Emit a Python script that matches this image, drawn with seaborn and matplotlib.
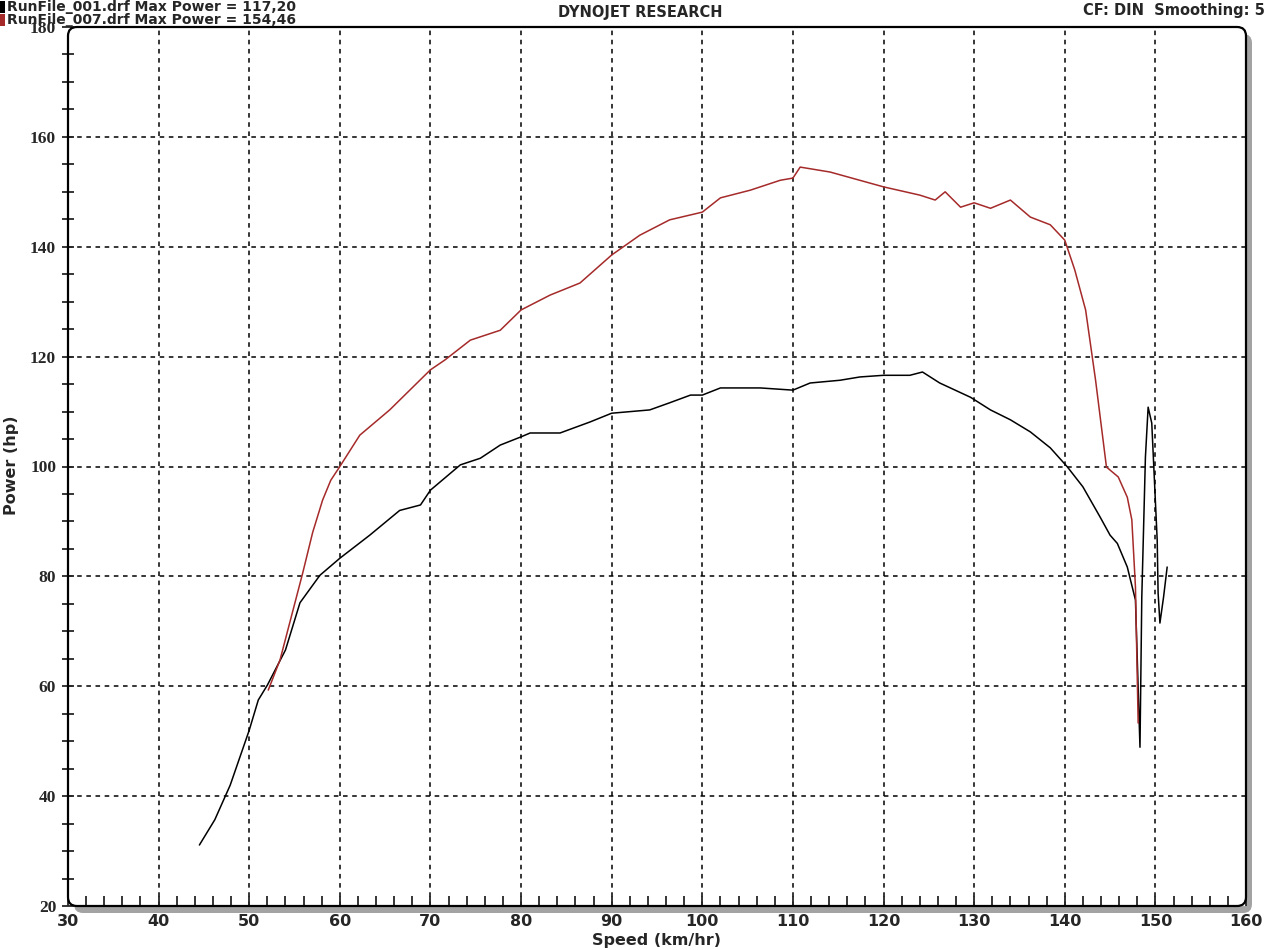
import numpy as np
import pandas as pd
import matplotlib
matplotlib.use("Agg")
import matplotlib.pyplot as plt
import seaborn as sns
from matplotlib.patches import FancyBboxPatch, Rectangle

# Run 001 (black)
black_speed = [44.5, 46.2, 47.9, 50.0, 51.0, 52.0, 54.0, 55.6, 57.8, 60.0, 63.3, 66.6,
               68.9, 70.0, 73.3, 75.5, 77.7, 80.0, 81.0, 84.3, 87.6, 90.0, 94.2, 96.4,
               98.7, 100.0, 102.0, 106.4, 110.0, 111.9, 115.2, 117.4, 120.0, 122.9, 124.3,
               126.2, 129.6, 131.8, 134.0, 136.2, 138.4, 140.3, 142.0, 143.9, 145.0, 145.8,
               146.9, 147.8, 148.3, 148.5, 148.9, 149.2, 149.6, 150.2, 150.3, 150.5, 150.9, 151.3]
black_power = [31.1, 35.7, 42.0, 52.0, 57.5, 60.2, 66.6, 75.2, 80.2, 83.3, 87.5, 92.0,
               93.0, 95.7, 100.3, 101.5, 103.9, 105.4, 106.1, 106.1, 108.1, 109.7, 110.3, 111.6,
               113.0, 113.0, 114.3, 114.3, 113.9, 115.2, 115.7, 116.3, 116.6, 116.6, 117.2,
               115.2, 112.6, 110.3, 108.5, 106.3, 103.4, 99.9, 96.3, 90.8, 87.5, 86.0,
               81.7, 75.7, 48.9, 76.2, 101.7, 110.8, 107.9, 86.6, 77.0, 71.5, 76.2, 81.7]

# Run 007 (red)
red_speed = [52.1, 53.4, 55.9, 57.0, 58.1, 59.0, 60.0, 62.2, 65.5, 70.0, 71.6, 74.4, 77.7, 80.0,
             83.2, 86.5, 90.0, 93.1, 96.4, 100.0, 102.0, 105.3, 108.6, 110.0, 110.8, 114.1,
             120.0, 124.0, 125.7, 126.8, 128.5, 130.0, 131.8, 134.0, 136.2, 138.4, 140.0,
             141.1, 142.3, 143.4, 144.6, 145.9, 146.9, 147.4, 147.8, 148.1]
red_power = [59.3, 64.8, 80.6, 88.0, 93.9, 97.5, 100.0, 105.7, 110.3, 117.6, 119.4, 123.0, 124.8, 128.5,
             131.2, 133.4, 138.5, 142.1, 144.9, 146.3, 148.9, 150.3, 152.1, 152.5, 154.5, 153.6,
             150.9, 149.4, 148.5, 150.0, 147.2, 148.0, 147.0, 148.5, 145.4, 144.0, 141.2,
             135.8, 128.5, 115.7, 99.9, 98.1, 94.4, 90.3, 78.1, 53.3]

run_names = ["RunFile_001.drf", "RunFile_007.drf"]
max_power = ["117,20", "154,46"]
run_colors = {"RunFile_001.drf": "black", "RunFile_007.drf": "#a52a2a"}

x_ticks = list(range(30, 161, 10))
y_ticks = list(range(20, 181, 20))

df = pd.concat([
    pd.DataFrame({"speed": black_speed, "power": black_power, "run": run_names[0]}),
    pd.DataFrame({"speed": red_speed, "power": red_power, "run": run_names[1]}),
], ignore_index=True)

sns.set_style("white")
plt.rcParams['font.family'] = ['DejaVu Sans']

W, H = 1280, 950
fig = plt.figure(figsize=(W / 100, H / 100), dpi=100)
L, B, R, T = 68, 44, 1246, 923  # axes box in pixels (from bottom)
ax = fig.add_axes([L / W, B / H, (R - L) / W, (T - B) / H])
ax.set_zorder(1)

# grey drop shadow behind the plot frame
shadow = FancyBboxPatch(((L + 6) / W, (B - 7) / H), (R - L) / W, (T - B) / H,
                        boxstyle="round,pad=0,rounding_size=0.007",
                        mutation_aspect=W / H, transform=fig.transFigure,
                        facecolor="#a3a3a3", edgecolor="none", zorder=0)
fig.patches.append(shadow)

sns.lineplot(data=df, x="speed", y="power", hue="run", palette=run_colors,
             estimator=None, sort=False, linewidth=1.1, legend=False, ax=ax)

ax.set_xlim(30, 160)
ax.set_ylim(20, 180)
ax.set_xticks(x_ticks)
ax.set_yticks(y_ticks)
ax.set_xticks(np.arange(30, 161, 2), minor=True)
ax.set_yticks(np.arange(20, 181, 5), minor=True)

for v in x_ticks[1:-1]:
    ax.axvline(v, color="black", linestyle=(0, (3, 3)), linewidth=1.1, zorder=0)
for v in y_ticks[1:-1]:
    ax.axhline(v, color="black", linestyle=(0, (3, 3)), linewidth=1.1, zorder=0)

for s in ax.spines.values():
    s.set_visible(False)

ax.tick_params(axis="x", which="both", direction="in", length=7, width=1.3,
               bottom=True, top=False, pad=6, labelsize=11.5)
ax.tick_params(axis="y", which="both", direction="inout", length=9, width=1.3,
               left=True, right=False, pad=4, labelsize=12.5)
for lab in ax.get_xticklabels():
    lab.set_fontweight("bold")
for lab in ax.get_yticklabels():
    lab.set_fontweight("bold")
    lab.set_fontfamily(["Liberation Serif", "DejaVu Serif"])

ax.set_xlabel("")
ax.set_ylabel("")

frame = FancyBboxPatch((L / W, B / H), (R - L) / W, (T - B) / H,
                       boxstyle="round,pad=0,rounding_size=0.007",
                       mutation_aspect=W / H, transform=fig.transFigure,
                       facecolor="none", edgecolor="black", linewidth=1.6, zorder=5)
fig.patches.append(frame)

# header texts
fig.text(657 / W, 1 - 940 / H, "Speed (km/hr)", ha="center", va="center",
         fontsize=11.5, fontweight="bold")
fig.text(12 / W, 1 - 465 / H, "Power (hp)", ha="center", va="center",
         rotation=90, fontsize=11.5, fontweight="bold")
fig.text(640 / W, 1 - 13 / H, "DYNOJET RESEARCH", ha="center", va="center",
         fontsize=10.5, fontweight="bold")
fig.text(1265 / W, 1 - 10 / H, "CF: DIN  Smoothing: 5", ha="right", va="center",
         fontsize=10.5, fontweight="bold")

line_y = [7, 20]
for name, mp, yy in zip(run_names, max_power, line_y):
    fig.patches.append(Rectangle((0, 1 - (yy + 6) / H), 5 / W, 12 / H,
                                 transform=fig.transFigure, facecolor=run_colors[name],
                                 edgecolor="none", zorder=6))
    fig.text(7 / W, 1 - yy / H, f"{name} Max Power = {mp}", ha="left", va="center",
             fontsize=10, fontweight="bold", zorder=6)

fig.savefig("out.png", dpi=100, facecolor="white")
